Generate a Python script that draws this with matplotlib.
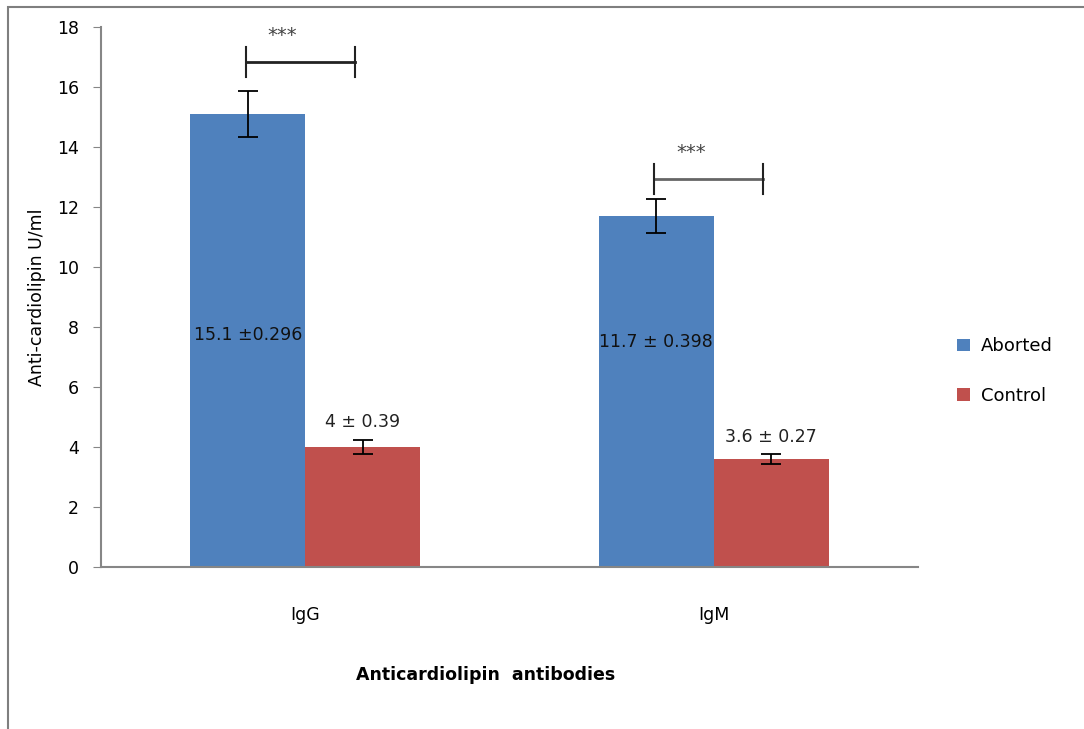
import matplotlib.pyplot as plt
import numpy as np
from matplotlib.patches import Rectangle

plt.rcParams['font.family'] = ['DejaVu Sans']

groups = ['IgG', 'IgM']
series = ['Aborted', 'Control']
aborted = [15.1, 11.7]
control = [4.0, 3.6]
# half-length of the plotted error bars
aborted_err = [0.77, 0.58]
control_err = [0.22, 0.17]
labels_aborted = ['15.1 \u00b10.296', '11.7 \u00b1 0.398']
labels_control = ['4 \u00b1 0.39', '3.6 \u00b1 0.27']
label_y_aborted = [7.75, 7.5]
label_y_control = [4.85, 4.35]
sig_text = ['***', '***']
sig_y = [16.85, 12.95]

blue = '#4f81bd'
red = '#c0504d'
grey = '#868686'

fig = plt.figure(figsize=[10.84, 7.29], dpi=100)
ax = fig.add_axes([0.0932, 0.2222, 0.7537, 0.7407])

x = np.arange(len(groups))
w = 0.2815

ax.bar(x - w/2, aborted, w, color=blue, label=series[0])
ax.bar(x + w/2, control, w, color=red, label=series[1])
ax.errorbar(x - w/2, aborted, yerr=aborted_err, fmt='none', ecolor='black',
            elinewidth=1.3, capsize=7, capthick=1.3)
ax.errorbar(x + w/2, control, yerr=control_err, fmt='none', ecolor='black',
            elinewidth=1.3, capsize=7, capthick=1.3)

for i in range(len(groups)):
    ax.text(x[i] - w/2, label_y_aborted[i], labels_aborted[i], ha='center',
            va='center', fontsize=12.5, color='#111111')
    ax.text(x[i] + w/2, label_y_control[i], labels_control[i], ha='center',
            va='center', fontsize=12.5, color='#222222')

# significance brackets
bcolors = ['#222222', '#666666']
for i in range(len(groups)):
    x0 = x[i] - w/2 - 0.005
    x1 = x[i] + w/2 - 0.02
    y = sig_y[i]
    ax.plot([x0, x1], [y, y], color=bcolors[i], lw=2)
    ax.plot([x0, x0], [y - 0.5, y + 0.5], color='#222222', lw=1.5)
    ax.plot([x1, x1], [y - 0.5, y + 0.5], color='#222222', lw=1.5)
    ax.text(x0 + 0.09, y + 0.55, sig_text[i], ha='center', va='bottom',
            fontsize=14, color='#444444')

ax.set_xlim(-0.5, 1.5)
ax.set_ylim(0, 18)
ax.set_yticks(np.arange(0, 19, 2))
ax.set_xticks(x)
ax.set_xticklabels(groups, fontsize=12.5)
ax.tick_params(axis='x', length=0, pad=28)
ax.tick_params(axis='y', length=6, color=grey, labelsize=12.5, pad=10)
for s in ['top', 'right']:
    ax.spines[s].set_visible(False)
for s in ['left', 'bottom']:
    ax.spines[s].set_color(grey)
    ax.spines[s].set_linewidth(1.5)

ax.set_ylabel('Anti-cardiolipin U/ml', fontsize=12.5, labelpad=8)
fig.text(0.448, 0.074, 'Anticardiolipin  antibodies', ha='center', va='center',
         fontsize=12.5, fontweight='bold')

handles, labs = ax.get_legend_handles_labels()
fig.legend(handles, labs, loc='center left', bbox_to_anchor=(0.868, 0.491),
           frameon=False, fontsize=13, handlelength=0.7, handleheight=0.7,
           labelspacing=1.75, handletextpad=0.6)

# outer chart frame
fig.patches.append(Rectangle((0.0075, -0.05), 1.2, 1.041, transform=fig.transFigure,
                             fill=False, edgecolor='#7f7f7f', lw=1.5))

fig.savefig('out.png', dpi=100)
